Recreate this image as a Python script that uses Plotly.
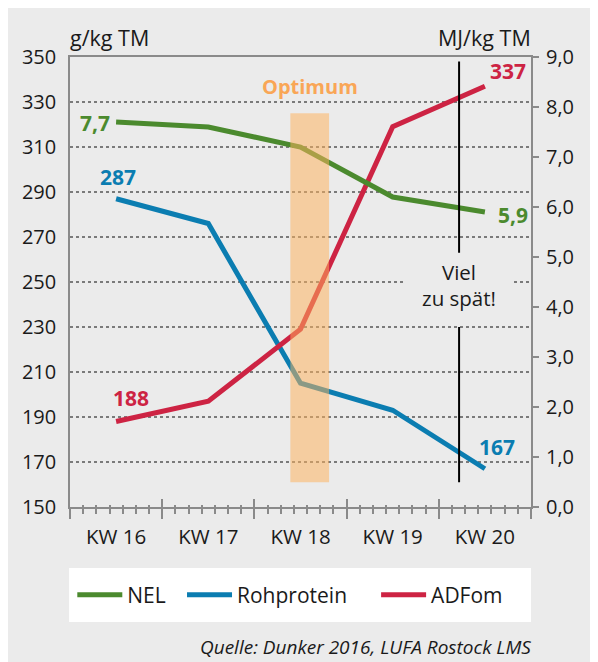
import plotly.graph_objects as go

# ---------------- data ----------------
weeks = ["KW 16", "KW 17", "KW 18", "KW 19", "KW 20"]
nel = [7.7, 7.6, 7.2, 6.2, 5.9]            # MJ/kg TM (right axis)
rohprotein = [287, 276, 205, 193, 167]     # g/kg TM (left axis)
adfom = [188, 197, 229, 319, 337]          # g/kg TM (left axis)

left_ticks = [150, 170, 190, 210, 230, 250, 270, 290, 310, 330, 350]
right_ticks = [0, 1, 2, 3, 4, 5, 6, 7, 8, 9]

optimum_x = [1.89, 2.31]        # band in week units
optimum_y = [161, 325]          # band in g/kg TM
late_x = 3.72                   # "Viel zu spät!" marker
late_upper = [263, 348]
late_lower = [161, 230]

# ---------------- style ----------------
FONT = "Open Sans"
GREEN = "#4b8a2e"
BLUE = "#0b7db1"
RED = "#cd2343"
ORANGE_TXT = "#f9a656"
BG = "#ebebeb"
AXIS = "#8a8a8a"
TXT = "#1a1a1a"

pos = list(range(len(weeks)))
bounds = [p - 0.5 for p in pos] + [pos[-1] + 0.5]

fig = go.Figure()
fig.add_trace(go.Scatter(x=pos, y=nel, name="NEL", mode="lines",
                         line=dict(color=GREEN, width=5), yaxis="y2", legend="legend"))
fig.add_trace(go.Scatter(x=pos, y=rohprotein, name="Rohprotein", mode="lines",
                         line=dict(color=BLUE, width=5), legend="legend2"))
fig.add_trace(go.Scatter(x=pos, y=adfom, name="ADFom", mode="lines",
                         line=dict(color=RED, width=5), legend="legend3"))
# invisible helpers so the tick-overlay axes get drawn
for ax in ["x2", "x3"]:
    fig.add_trace(go.Scatter(x=pos, y=[None] * len(pos), xaxis=ax, yaxis="y",
                             showlegend=False, hoverinfo="skip", mode="lines"))

fmt = lambda v: f"{v:.1f}".replace(".", ",")
LBL = 21

ann = []
# value labels
ann.append(dict(x=pos[0], y=nel[0], xref="x", yref="y2", text=f"<b>{fmt(nel[0])}</b>",
                xanchor="right", yanchor="middle", xshift=-4, yshift=-1,
                font=dict(color=GREEN, size=LBL, family=FONT), showarrow=False))
ann.append(dict(x=pos[-1], y=nel[-1], xref="x", yref="y2", text=f"<b>{fmt(nel[-1])}</b>",
                xanchor="left", yanchor="middle", xshift=11, yshift=-3,
                font=dict(color=GREEN, size=LBL, family=FONT), showarrow=False))
ann.append(dict(x=pos[0], y=rohprotein[0], xref="x", yref="y", text=f"<b>{rohprotein[0]}</b>",
                xanchor="center", yanchor="middle", xshift=2, yshift=22,
                font=dict(color=BLUE, size=LBL, family=FONT), showarrow=False))
ann.append(dict(x=pos[-1], y=rohprotein[-1], xref="x", yref="y", text=f"<b>{rohprotein[-1]}</b>",
                xanchor="center", yanchor="middle", xshift=12, yshift=22,
                font=dict(color=BLUE, size=LBL, family=FONT), showarrow=False))
ann.append(dict(x=pos[0], y=adfom[0], xref="x", yref="y", text=f"<b>{adfom[0]}</b>",
                xanchor="center", yanchor="middle", xshift=15, yshift=24,
                font=dict(color=RED, size=LBL, family=FONT), showarrow=False))
ann.append(dict(x=pos[-1], y=adfom[-1], xref="x", yref="y", text=f"<b>{adfom[-1]}</b>",
                xanchor="center", yanchor="middle", xshift=23, yshift=15,
                font=dict(color=RED, size=LBL, family=FONT), showarrow=False))
# Optimum label
ann.append(dict(x=sum(optimum_x) / 2, y=optimum_y[1], xref="x", yref="y", text="<b>Optimum</b>",
                xanchor="center", yanchor="middle", yshift=27,
                font=dict(color=ORANGE_TXT, size=20, family=FONT), showarrow=False))
# Viel zu spät
ann.append(dict(x=late_x, y=(late_upper[0] + late_lower[1]) / 2 + 2, xref="x", yref="y",
                text="Viel<br>zu spät!", xanchor="center", yanchor="middle",
                font=dict(color=TXT, size=20.5, family=FONT), showarrow=False,
                bgcolor=BG, width=106, height=56, align="center"))
# unit titles
ann.append(dict(x=0, y=1, xref="paper", yref="paper", text="g/kg TM",
                xanchor="left", yanchor="bottom", yshift=3, xshift=-2,
                font=dict(color=TXT, size=21.5, family=FONT), showarrow=False))
ann.append(dict(x=1, y=1, xref="paper", yref="paper", text="MJ/kg TM",
                xanchor="right", yanchor="bottom", yshift=3, xshift=2,
                font=dict(color=TXT, size=21.5, family=FONT), showarrow=False))
# source
ann.append(dict(x=1, y=-0.311, xref="paper", yref="paper",
                text="<i>Quelle: Dunker 2016, LUFA Rostock LMS</i>",
                xanchor="right", yanchor="middle", xshift=2,
                font=dict(color=TXT, size=19, family=FONT), showarrow=False))

shapes = [
    # white legend box
    dict(type="rect", xref="paper", yref="paper", x0=-0.002, x1=1.0, y0=-0.2556, y1=-0.1356,
         fillcolor="white", line=dict(width=0), layer="below"),
    # optimum band
    dict(type="rect", xref="x", yref="y", x0=optimum_x[0], x1=optimum_x[1],
         y0=optimum_y[0], y1=optimum_y[1], fillcolor="rgba(255,178,92,0.52)",
         line=dict(width=0), layer="above"),
    # late marker
    dict(type="line", xref="x", yref="y", x0=late_x, x1=late_x, y0=late_upper[0], y1=late_upper[1],
         line=dict(color="black", width=2), layer="above"),
    dict(type="line", xref="x", yref="y", x0=late_x, x1=late_x, y0=late_lower[0], y1=late_lower[1],
         line=dict(color="black", width=2), layer="above"),
]

tickaxis_common = dict(matches="x", overlaying="x", anchor="y", showgrid=False, zeroline=False,
                       showline=False, showticklabels=False,
                       tickmode="linear", tick0=bounds[0], dtick=1,
                       tickcolor=AXIS, tickwidth=1.5)

leg_common = dict(orientation="h", xanchor="left", y=-0.1956, yanchor="middle",
                  itemwidth=45,
                  bgcolor="rgba(0,0,0,0)", font=dict(size=21, family=FONT, color=TXT))

fig.update_layout(
    width=590, height=654, autosize=False,
    margin=dict(l=62, r=67, t=49, b=155),
    paper_bgcolor=BG, plot_bgcolor=BG,
    separators=",.",
    font=dict(family=FONT, color=TXT, size=20),
    showlegend=True,
    legend=dict(**leg_common, x=0.005),
    legend2=dict(**leg_common, x=0.243),
    legend3=dict(**leg_common, x=0.664),
    xaxis=dict(range=[bounds[0], bounds[-1]], tickmode="array", tickvals=pos, ticktext=weeks,
               ticks="", showgrid=False, zeroline=False, showline=True, linecolor=AXIS,
               linewidth=1.5, mirror=True, ticklabelstandoff=11,
               tickfont=dict(size=20.5, family=FONT, color=TXT)),
    xaxis2=dict(**tickaxis_common, ticks="outside", ticklen=11,
                minor=dict(tickmode="linear", tick0=bounds[0], dtick=1 / 7, ticks="outside",
                           ticklen=6, tickcolor=AXIS, tickwidth=1.5)),
    xaxis3=dict(**tickaxis_common, ticks="inside", ticklen=8,
                minor=dict(tickmode="linear", tick0=bounds[0], dtick=1 / 7, ticks="inside",
                           ticklen=2, tickcolor=AXIS, tickwidth=1.5)),
    yaxis=dict(range=[left_ticks[0], left_ticks[-1]], tickmode="array", tickvals=left_ticks,
               ticks="", showgrid=True, gridcolor="#7a7a7a", griddash="dot", gridwidth=1.5,
               zeroline=False, showline=True, linecolor=AXIS, linewidth=1.5, mirror=True,
               ticklabelstandoff=8, tickfont=dict(size=20, family=FONT, color=TXT)),
    yaxis2=dict(range=[right_ticks[0], right_ticks[-1]], tickmode="array", tickvals=right_ticks,
                overlaying="y", side="right", tickformat=".1f", ticks="outside", ticklen=7,
                tickcolor=AXIS, tickwidth=1.5, showgrid=False, zeroline=False, showline=False,
                ticklabelstandoff=3, tickfont=dict(size=20, family=FONT, color=TXT)),
    annotations=ann,
    shapes=shapes,
)

fig.write_html("out.html")
